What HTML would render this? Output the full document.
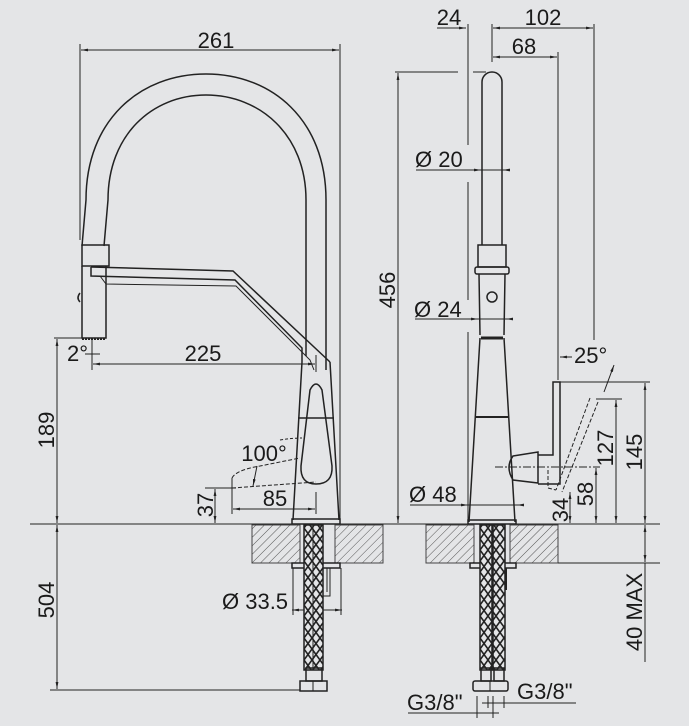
<!DOCTYPE html>
<html><head><meta charset="utf-8"><style>
html,body{margin:0;padding:0;background:#e4e5e7;}
svg{display:block;}
text{font-family:"Liberation Sans",sans-serif;font-size:22px;fill:#1a1a1a;}
</style></head><body>
<svg width="689" height="726" viewBox="0 0 689 726" xmlns="http://www.w3.org/2000/svg">
<defs>
<pattern id="h" width="6" height="6" patternUnits="userSpaceOnUse" patternTransform="rotate(45)">
<rect width="6" height="6" fill="#e4e5e7"/><line x1="0" y1="0" x2="0" y2="6" stroke="#555" stroke-width="1"/></pattern>
<pattern id="br" width="8" height="11" patternUnits="userSpaceOnUse">
<rect width="8" height="11" fill="#e4e5e7"/><path d="M0,0 L8,11 M8,0 L0,11" stroke="#222" stroke-width="1.6"/></pattern>
<marker id="a" viewBox="0 0 10 10" refX="10" refY="5" markerWidth="7" markerHeight="7" orient="auto-start-reverse"><path d="M0,3 L10,5 L0,7z" fill="#222"/></marker>
</defs>
<g fill="none" stroke="#222" stroke-width="1">
<line x1="80" y1="44" x2="80" y2="240"/><line x1="340" y1="44" x2="340" y2="524"/>
<line x1="81" y1="50" x2="339" y2="50" marker-start="url(#a)" marker-end="url(#a)"/>
<line x1="54" y1="338" x2="82" y2="338"/>
<line x1="57" y1="339" x2="57" y2="523" marker-start="url(#a)" marker-end="url(#a)"/>
<line x1="57" y1="525" x2="57" y2="689" marker-start="url(#a)" marker-end="url(#a)"/>
<line x1="50" y1="690" x2="300" y2="690"/>
<line x1="92" y1="340" x2="92" y2="370"/>
<line x1="93" y1="364" x2="315" y2="364" marker-start="url(#a)" marker-end="url(#a)"/>
<line x1="316" y1="355" x2="316" y2="372"/>
<line x1="85" y1="354" x2="100" y2="354"/>
<line x1="205" y1="488" x2="236" y2="488"/>
<line x1="215" y1="489" x2="215" y2="523" marker-start="url(#a)" marker-end="url(#a)"/>
<line x1="232" y1="478" x2="232" y2="514"/>
<line x1="316" y1="492" x2="316" y2="514"/>
<line x1="233" y1="509" x2="315" y2="509" marker-start="url(#a)" marker-end="url(#a)"/>
<path d="M280,440 Q292,438 302,438" stroke-dasharray="3,2"/>
<line x1="257" y1="466" x2="253" y2="486" marker-end="url(#a)"/>
<path d="M232,478 Q236,470 260,466 L300,458 M232,488 L316,482" stroke-dasharray="4,2"/>
<line x1="30" y1="524" x2="660" y2="524"/>
<line x1="292" y1="610" x2="342" y2="610" marker-start="url(#a)" marker-end="url(#a)"/>
<line x1="293" y1="568" x2="293" y2="615"/><line x1="341" y1="568" x2="341" y2="615"/>
<path d="M82,246 L86,200 C86,120 140,74 206,74 C272,74 326,120 326,200 L326,370" stroke-width="1.5"/>
<path d="M104,246 L108,200 C108,135 152,95 206,95 C260,95 306,135 306,200 L306,356" stroke-width="1.5"/>
<rect x="82" y="245" width="27" height="21" stroke-width="1.5"/>
<path d="M82,266 L82,338 L106,338 L106,266" stroke-width="1.5"/>
<path d="M80,293 Q76,298 80,302" stroke-width="1.5"/>
<line x1="82" y1="339" x2="106" y2="339" stroke-width="2" stroke-dasharray="2,1"/>
<path d="M91,267 L233,271 L330,362" stroke-width="1.5"/>
<path d="M91,267 L91,276 L235,280 L302,348 L302,362" stroke-width="1.5"/>
<path d="M100,276 L106,284 M106,284 L236,286 L310,360 L314,370" stroke-width="1"/>
<path d="M302,362 L293,520 M330,362 L339,520" stroke-width="1.5"/>
<line x1="298" y1="418" x2="334" y2="418" stroke-width="1.5"/>
<rect x="292" y="519" width="48" height="5" stroke-width="1.5"/>
<path d="M310,390 Q316,378 322,390 L332,466 Q333,484 316,484 Q300,484 301,466 Z" stroke-width="1.5"/>
<rect x="252" y="525" width="48" height="38" fill="url(#h)" stroke="#444"/>
<rect x="335" y="525" width="48" height="38" fill="url(#h)" stroke="#444"/>
<rect x="292" y="563" width="48" height="5" stroke-width="1.5"/>
<rect x="304" y="525" width="19" height="145" fill="url(#br)" stroke-width="1.5"/>
<line x1="313" y1="525" x2="313" y2="670"/>
<rect x="306" y="668" width="16" height="13" stroke-width="1.5"/>
<rect x="300" y="681" width="27" height="10" stroke-width="1.5"/>
<line x1="313" y1="681" x2="313" y2="691"/>
<path d="M323,568 L330,568 L330,596 L323,596 M327,568 L327,592" stroke-width="1"/>
<line x1="437" y1="28" x2="466" y2="28" marker-end="url(#a)"/>
<line x1="493" y1="28" x2="593" y2="28" marker-start="url(#a)" marker-end="url(#a)"/>
<line x1="493" y1="57" x2="557" y2="57" marker-start="url(#a)" marker-end="url(#a)"/>
<line x1="468" y1="24" x2="468" y2="145"/><line x1="468" y1="182" x2="468" y2="300"/><line x1="468" y1="332" x2="468" y2="520"/>
<line x1="492" y1="24" x2="492" y2="62"/>
<line x1="558" y1="52" x2="558" y2="380"/>
<line x1="594" y1="24" x2="594" y2="340"/>
<line x1="395" y1="72" x2="458" y2="72"/><line x1="473" y1="72" x2="486" y2="72"/>
<line x1="398" y1="73" x2="398" y2="523" marker-start="url(#a)" marker-end="url(#a)"/>
<line x1="416" y1="170" x2="508" y2="170"/>
<line x1="476" y1="170" x2="481" y2="170" marker-end="url(#a)"/><line x1="508" y1="170" x2="503" y2="170" marker-end="url(#a)"/>
<line x1="415" y1="319" x2="511" y2="319"/>
<line x1="472" y1="319" x2="478" y2="319" marker-end="url(#a)"/><line x1="511" y1="319" x2="506" y2="319" marker-end="url(#a)"/>
<line x1="410" y1="505" x2="523" y2="505"/>
<line x1="462" y1="505" x2="468" y2="505" marker-end="url(#a)"/><line x1="523" y1="505" x2="517" y2="505" marker-end="url(#a)"/>
<line x1="560" y1="357" x2="572" y2="357" marker-start="url(#a)"/>
<line x1="604" y1="392" x2="614" y2="365" marker-end="url(#a)"/>
<line x1="560" y1="382" x2="650" y2="382"/>
<line x1="645" y1="383" x2="645" y2="523" marker-start="url(#a)" marker-end="url(#a)"/>
<line x1="596" y1="399" x2="622" y2="399"/>
<line x1="616" y1="400" x2="616" y2="523" marker-start="url(#a)" marker-end="url(#a)"/>
<line x1="495" y1="467" x2="600" y2="467" stroke-dasharray="8,2,2,2"/>
<line x1="596" y1="468" x2="596" y2="523" marker-start="url(#a)" marker-end="url(#a)"/>
<line x1="570" y1="492" x2="570" y2="523" marker-start="url(#a)" marker-end="url(#a)"/>
<line x1="645" y1="525" x2="645" y2="562" marker-start="url(#a)" marker-end="url(#a)"/>
<line x1="558" y1="563" x2="650" y2="563"/>
<line x1="645" y1="563" x2="645" y2="662"/>
<path d="M482,245 L482,82 A10,10 0 0 1 502,82 L502,245" stroke-width="1.5"/>
<rect x="478" y="245" width="28" height="22" stroke-width="1.5"/>
<rect x="475" y="267" width="34" height="7" rx="2" stroke-width="1.5"/>
<path d="M479,274 L480,335 M505,274 L504,335" stroke-width="1.5"/>
<circle cx="492" cy="297" r="5" stroke-width="1.5"/>
<line x1="481" y1="338" x2="503" y2="338" stroke-width="3"/>
<path d="M480,338 L469,522 M504,338 L515,522" stroke-width="1.5"/>
<line x1="476" y1="417" x2="508" y2="417" stroke-width="2"/>
<rect x="468" y="520" width="48" height="4" stroke-width="1.5"/>
<path d="M513,456 L538,452 L538,483 L513,480 Q505,467 513,456 Z" stroke-width="1.5"/>
<path d="M538,455 L553,455 L553,382 L560,382 L560,484 L538,484" stroke-width="1.5"/>
<path d="M590,398 L556,490 M598,402 L562,492 M548,470 L548,488 L556,490" stroke-dasharray="4,2"/>
<rect x="426" y="525" width="48" height="38" fill="url(#h)" stroke="#444"/>
<rect x="510" y="525" width="48" height="38" fill="url(#h)" stroke="#444"/>
<line x1="558" y1="563" x2="660" y2="563"/>
<rect x="470" y="563" width="46" height="5" stroke-width="1.5"/>
<rect x="480" y="525" width="12" height="145" fill="url(#br)" stroke-width="1.5"/>
<rect x="493" y="525" width="12" height="145" fill="url(#br)" stroke-width="1.5"/>
<rect x="481" y="668" width="10" height="13" stroke-width="1.5"/>
<rect x="494" y="668" width="10" height="13" stroke-width="1.5"/>
<rect x="473" y="681" width="35" height="10" rx="2" stroke-width="1.5"/>
<line x1="490" y1="681" x2="490" y2="691"/>
<line x1="506" y1="568" x2="506" y2="590" stroke-width="2"/>
<line x1="408" y1="713" x2="499" y2="713"/>
<line x1="477" y1="696" x2="477" y2="718"/><line x1="493" y1="696" x2="493" y2="718"/>
<line x1="482" y1="703" x2="576" y2="703"/>
<line x1="488" y1="696" x2="488" y2="708"/><line x1="504" y1="696" x2="504" y2="708"/>
</g>
<g>
<text x="216" y="48" text-anchor="middle">261</text>
<text x="67" y="361">2°</text>
<text x="203" y="361" text-anchor="middle">225</text>
<text x="264" y="461" text-anchor="middle">100°</text>
<text x="275" y="506" text-anchor="middle">85</text>
<text transform="translate(54,430) rotate(-90)" text-anchor="middle">189</text>
<text transform="translate(213,505) rotate(-90)" text-anchor="middle">37</text>
<text transform="translate(54,600) rotate(-90)" text-anchor="middle">504</text>
<text x="222" y="609">Ø 33.5</text>
<text x="449" y="25" text-anchor="middle">24</text>
<text x="543" y="25" text-anchor="middle">102</text>
<text x="524" y="54" text-anchor="middle">68</text>
<text transform="translate(395,290) rotate(-90)" text-anchor="middle">456</text>
<text x="415" y="167">Ø 20</text>
<text x="414" y="317">Ø 24</text>
<text x="574" y="363">25°</text>
<text transform="translate(642,452) rotate(-90)" text-anchor="middle">145</text>
<text transform="translate(613,448) rotate(-90)" text-anchor="middle">127</text>
<text transform="translate(593,494) rotate(-90)" text-anchor="middle">58</text>
<text transform="translate(568,510) rotate(-90)" text-anchor="middle">34</text>
<text x="409" y="502">Ø 48</text>
<text transform="translate(642,612) rotate(-90)" text-anchor="middle">40 MAX</text>
<text x="407" y="710">G3/8"</text>
<text x="517" y="699">G3/8"</text>
</g>
</svg>
</body></html>
